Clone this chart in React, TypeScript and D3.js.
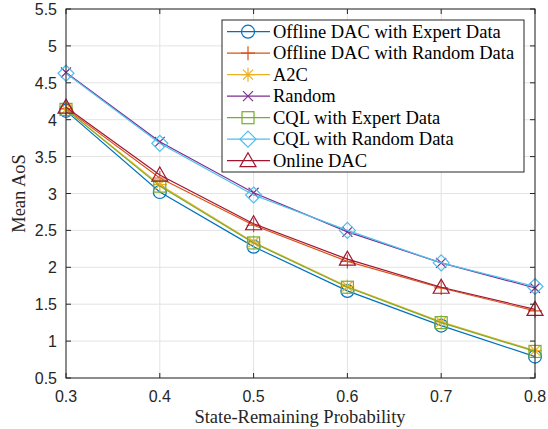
import React from "react";
import * as d3 from "d3";

const xValues = [0.3, 0.4, 0.5, 0.6, 0.7, 0.8];
const seriesNames = [
  "Offline DAC with Expert Data",
  "Offline DAC with Random Data",
  "A2C",
  "Random",
  "CQL with Expert Data",
  "CQL with Random Data",
  "Online DAC",
];
const offlineExpert = [4.12, 3.02, 2.28, 1.68, 1.21, 0.79];
const offlineRandom = [4.15, 3.21, 2.57, 2.08, 1.72, 1.41];
const a2c = [4.14, 3.12, 2.34, 1.74, 1.26, 0.87];
const randomPolicy = [4.64, 3.70, 3.01, 2.48, 2.06, 1.72];
const cqlExpert = [4.14, 3.10, 2.33, 1.73, 1.25, 0.86];
const cqlRandom = [4.63, 3.68, 2.98, 2.50, 2.06, 1.74];
const onlineDac = [4.17, 3.25, 2.59, 2.11, 1.73, 1.43];
const seriesValues = [offlineExpert, offlineRandom, a2c, randomPolicy, cqlExpert, cqlRandom, onlineDac];
const colors = ["#0072BD", "#D95319", "#EDB120", "#7E2F8E", "#77AC30", "#4DBEEE", "#A2142F"];
const markers = ["circle", "plus", "asterisk", "x", "square", "diamond", "triangle"];
const xTicks = [0.3, 0.4, 0.5, 0.6, 0.7, 0.8];
const yTicks = [0.5, 1, 1.5, 2, 2.5, 3, 3.5, 4, 4.5, 5, 5.5];
const xLabel = "State-Remaining Probability";
const yLabel = "Mean AoS";

const W = 548, H = 429;
const L = 66, R = 535, T = 9, B = 378;

function Marker({ type, x, y, color }: { type: string; x: number; y: number; color: string }) {
  const sw = 1.2;
  switch (type) {
    case "circle":
      return <circle cx={x} cy={y} r={6.5} fill="none" stroke={color} strokeWidth={sw} />;
    case "plus":
      return <path d={`M${x - 7},${y}H${x + 7}M${x},${y - 7}V${y + 7}`} stroke={color} strokeWidth={sw} />;
    case "asterisk":
      return (
        <path
          d={`M${x - 7},${y}H${x + 7}M${x},${y - 7}V${y + 7}M${x - 5},${y - 5}L${x + 5},${y + 5}M${x - 5},${y + 5}L${x + 5},${y - 5}`}
          stroke={color}
          strokeWidth={sw}
        />
      );
    case "x":
      return <path d={`M${x - 5},${y - 5}L${x + 5},${y + 5}M${x - 5},${y + 5}L${x + 5},${y - 5}`} stroke={color} strokeWidth={sw} />;
    case "square":
      return <rect x={x - 6} y={y - 6} width={12} height={12} fill="none" stroke={color} strokeWidth={sw} />;
    case "diamond":
      return <path d={`M${x},${y - 8}L${x + 8},${y}L${x},${y + 8}L${x - 8},${y}Z`} fill="none" stroke={color} strokeWidth={sw} />;
    case "triangle":
      return <path d={`M${x},${y - 8}L${x + 8},${y + 6}L${x - 8},${y + 6}Z`} fill="none" stroke={color} strokeWidth={sw} />;
  }
  return null;
}

export default function App() {
  const xs = d3.scaleLinear().domain([0.3, 0.8]).range([L, R]);
  const ys = d3.scaleLinear().domain([0.5, 5.5]).range([B, T]);
  const line = d3
    .line<number>()
    .x((_, i) => xs(xValues[i]))
    .y((d) => ys(d));
  const axisColor = "#262626";
  const tickFont = "'Liberation Sans', Arial, sans-serif";
  const serif = "'Liberation Serif', 'Times New Roman', serif";
  const legL = 222, legT = 20, legR = 524, legB = 172;
  const rowH = 21.5;
  return (
    <svg width={W} height={H} style={{ position: "absolute", left: 0, top: 0 }}>
      <rect x={0} y={0} width={W} height={H} fill="#fff" />
      {xTicks.map((t) => (
        <line key={"gx" + t} x1={xs(t)} x2={xs(t)} y1={T} y2={B} stroke="#e3e3e3" strokeWidth={1} />
      ))}
      {yTicks.map((t) => (
        <line key={"gy" + t} x1={L} x2={R} y1={ys(t)} y2={ys(t)} stroke="#e3e3e3" strokeWidth={1} />
      ))}
      {seriesValues.map((vals, si) => (
        <g key={"s" + si}>
          <path d={line(vals) || ""} fill="none" stroke={colors[si]} strokeWidth={1.2} />
          {vals.map((v, i) => (
            <Marker key={i} type={markers[si]} x={xs(xValues[i])} y={ys(v)} color={colors[si]} />
          ))}
        </g>
      ))}
      <rect x={L} y={T} width={R - L} height={B - T} fill="none" stroke={axisColor} strokeWidth={1} />
      {xTicks.map((t) => (
        <g key={"tx" + t}>
          <line x1={xs(t)} x2={xs(t)} y1={B} y2={B - 5} stroke={axisColor} />
          <line x1={xs(t)} x2={xs(t)} y1={T} y2={T + 5} stroke={axisColor} />
          <text x={xs(t)} y={402} textAnchor="middle" fontFamily={tickFont} fontSize={16} fill={axisColor}>
            {t.toFixed(1)}
          </text>
        </g>
      ))}
      {yTicks.map((t) => (
        <g key={"ty" + t}>
          <line x1={L} x2={L + 5} y1={ys(t)} y2={ys(t)} stroke={axisColor} />
          <line x1={R} x2={R - 5} y1={ys(t)} y2={ys(t)} stroke={axisColor} />
          <text x={57} y={ys(t) + 6} textAnchor="end" fontFamily={tickFont} fontSize={16} fill={axisColor}>
            {String(t)}
          </text>
        </g>
      ))}
      <text x={300} y={423} textAnchor="middle" fontFamily={serif} fontSize={18.5} fill={axisColor}>
        {xLabel}
      </text>
      <text
        transform={`translate(25,${(T + B) / 2}) rotate(-90)`}
        textAnchor="middle"
        fontFamily={serif}
        fontSize={18.5}
        fill={axisColor}
      >
        {yLabel}
      </text>
      <rect x={legL} y={legT} width={legR - legL} height={legB - legT} fill="#fff" stroke={axisColor} strokeWidth={1} />
      {seriesNames.map((name, i) => {
        const cy = legT + 11.7 + i * rowH;
        return (
          <g key={"l" + i}>
            <line x1={227} x2={270} y1={cy} y2={cy} stroke={colors[i]} strokeWidth={1.2} />
            <Marker type={markers[i]} x={248} y={cy} color={colors[i]} />
            <text x={273} y={cy + 6} fontFamily={serif} fontSize={18.5} fill="#000">
              {name}
            </text>
          </g>
        );
      })}
    </svg>
  );
}
